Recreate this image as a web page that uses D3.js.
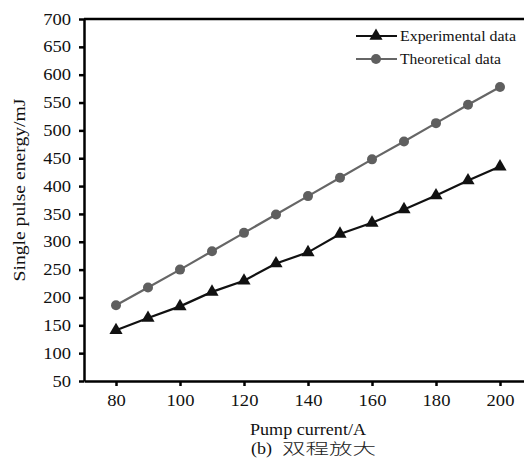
<!DOCTYPE html>
<html><head><meta charset="utf-8">
<script src="https://cdn.jsdelivr.net/npm/d3@7"></script>
<style>body{margin:0;background:#fff}svg{display:block}</style>
</head><body>
<svg id="c" width="524" height="459"></svg>
<script>
const currents = [80, 90, 100, 110, 120, 130, 140, 150, 160, 170, 180, 190, 200];
const experimental = [141, 163, 184, 210, 230, 261, 281, 314, 334, 358, 383, 410, 435];
const theoretical = [186, 218, 250, 283, 316, 349, 382, 415, 448, 480, 513, 546, 578];
const xTicks = [80, 100, 120, 140, 160, 180, 200];
const yTicks = [50, 100, 150, 200, 250, 300, 350, 400, 450, 500, 550, 600, 650, 700];

const svg = d3.select('#c');
const font = '"Liberation Serif","Times New Roman",serif';
const L = 84, R = 524, T = 19, B = 381;
const SX = 1.16;
const x = d3.scaleLinear().domain([70, 207.5]).range([L, R]);
const y = d3.scaleLinear().domain([50, 700]).range([B, T]);

// top border
svg.append('line').attr('x1', L).attr('x2', R).attr('y1', T).attr('y2', T)
  .attr('stroke', '#000').attr('stroke-width', 2.5);

const xa = svg.append('g').attr('transform', `translate(0,${B})`)
  .call(d3.axisBottom(x).tickValues(xTicks).tickSize(5).tickSizeOuter(0).tickPadding(9));
const ya = svg.append('g').attr('transform', `translate(${L},0)`)
  .call(d3.axisLeft(y).tickValues(yTicks).tickSize(5).tickSizeOuter(0).tickPadding(8));
[xa, ya].forEach(a => {
  a.select('.domain').attr('stroke', '#000').attr('stroke-width', 2.5);
  a.selectAll('.tick line').attr('stroke', '#000').attr('stroke-width', 2.5);
  a.selectAll('.tick text').attr('font-family', font).attr('font-size', 16).attr('fill', '#111');
});
ya.selectAll('.tick text').each(function () {
  const t = d3.select(this); const tx = +t.attr('x');
  t.attr('x', 0).attr('transform', `translate(${tx},0) scale(${SX},1)`);
});
xa.selectAll('.tick text').attr('transform', `scale(${SX},1)`);

const line = d3.line().x((d, i) => x(currents[i])).y(d => y(d));
svg.append('path').datum(theoretical).attr('d', line).attr('fill', 'none')
  .attr('stroke', '#666').attr('stroke-width', 2.2);
svg.append('path').datum(experimental).attr('d', line).attr('fill', 'none')
  .attr('stroke', '#111').attr('stroke-width', 2.2);

svg.selectAll('.tc').data(theoretical).enter().append('circle')
  .attr('cx', (d, i) => x(currents[i])).attr('cy', d => y(d)).attr('r', 5).attr('fill', '#5f5f5f');
const tri = d3.symbol().type(d3.symbolTriangle).size(75);
svg.selectAll('.et').data(experimental).enter().append('path')
  .attr('d', tri).attr('transform', (d, i) => `translate(${x(currents[i])},${y(d)})`).attr('fill', '#111');

// legend
const leg = [{label: 'Experimental data', color: '#111', m: 'tri', w: 116}, {label: 'Theoretical data', color: '#666', m: 'circ', w: 101}];
leg.forEach((d, i) => {
  const ly = 36 + i * 23;
  svg.append('line').attr('x1', 356).attr('x2', 397).attr('y1', ly).attr('y2', ly)
    .attr('stroke', d.color).attr('stroke-width', 2.2);
  if (d.m === 'tri') svg.append('path').attr('d', tri).attr('transform', `translate(376,${ly})`).attr('fill', d.color);
  else svg.append('circle').attr('cx', 376).attr('cy', ly).attr('r', 5).attr('fill', '#5f5f5f');
  svg.append('text').attr('x', 400).attr('y', ly + 5).attr('font-family', font).attr('font-size', 15)
    .attr('textLength', d.w).attr('lengthAdjust', 'spacingAndGlyphs')
    .attr('fill', '#111').text(d.label);
});

svg.append('text').attr('x', 250).attr('y', 435)
  .attr('font-family', font).attr('font-size', 16).attr('fill', '#111')
  .attr('textLength', 116).attr('lengthAdjust', 'spacingAndGlyphs').text('Pump current/A');
const cap = svg.append('text').attr('x', 251).attr('y', 454)
  .attr('font-family', font).attr('font-size', 16).attr('fill', '#111');
cap.append('tspan').text('(b)').attr('textLength', 21).attr('lengthAdjust', 'spacingAndGlyphs');
cap.append('tspan').attr('x', 282).attr('font-family', '"Noto Sans CJK SC",sans-serif')
  .attr('font-size', 15).attr('font-weight', 300).attr('fill', '#222')
  .attr('textLength', 94).attr('lengthAdjust', 'spacingAndGlyphs').text('双程放大');
svg.append('text').attr('transform', `translate(25,190) rotate(-90)`).attr('text-anchor', 'middle')
  .attr('font-family', font).attr('font-size', 16.5).attr('fill', '#111')
  .attr('textLength', 183).attr('lengthAdjust', 'spacingAndGlyphs').text('Single pulse energy/mJ');
</script>
</body></html>
